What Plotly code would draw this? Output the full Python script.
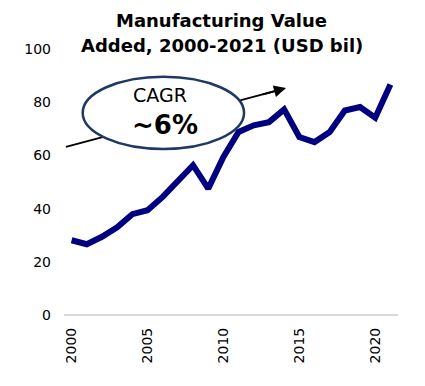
import plotly.graph_objects as go

years = list(range(2000, 2022))
values = [28.1, 26.6, 29.4, 33.0, 37.9, 39.4, 44.4, 50.0, 56.3, 47.5, 59.4,
          68.8, 71.3, 72.5, 77.3, 66.9, 65.0, 68.8, 76.9, 78.2, 74.2, 86.7]
x_ticks = [2000, 2005, 2010, 2015, 2020]
y_ticks = [0, 20, 40, 60, 80, 100]
title_lines = ["Manufacturing Value", "Added, 2000-2021 (USD bil)"]

fig = go.Figure()
fig.add_trace(go.Scatter(x=years, y=values, mode="lines",
                         line=dict(color="#000080", width=6), showlegend=False))

fig.update_layout(
    width=417, height=378,
    margin=dict(l=56, r=27, t=41, b=71),
    paper_bgcolor="white", plot_bgcolor="white",
    font=dict(family="DejaVu Sans", color="black", size=14),
    xaxis=dict(range=[1999.5, 2021.5], tickvals=x_ticks, tickangle=-90,
               showgrid=False, showline=False, zeroline=False, ticks="",
               ticklabelstandoff=9, tickfont=dict(size=14), automargin=False),
    yaxis=dict(range=[0, 100], tickvals=y_ticks, showgrid=False,
               zeroline=True, zerolinecolor="#d9d9d9", zerolinewidth=1.5,
               showline=False, ticks="", ticklabelstandoff=12,
               tickfont=dict(size=14), automargin=False),
)

# title (two lines)
fig.add_annotation(x=0.473, y=1, xref="paper", yref="paper", yanchor="middle",
                   yshift=29, text="<b>" + title_lines[0] + "</b>", showarrow=False,
                   font=dict(size=18, color="black"))
fig.add_annotation(x=0.473, y=1, xref="paper", yref="paper", yanchor="middle",
                   yshift=4, text="<b>" + title_lines[1] + "</b>", showarrow=False,
                   font=dict(size=18, color="black"))

# trend arrow line (passes behind the ellipse)
fig.add_shape(type="line", xref="x", yref="y", x0=1999.63, y0=63.2,
              x1=2014.0, y1=85.1, line=dict(color="black", width=2), layer="above")
fig.add_shape(type="circle", xref="x", yref="y", x0=2000.73, x1=2011.36,
              y0=62.4, y1=89.6, line=dict(color="#1F3864", width=2.5),
              fillcolor="white", layer="above")
fig.add_annotation(x=2014.12, y=85.3, ax=2012.5, ay=82.8, xref="x", yref="y",
                   axref="x", ayref="y", showarrow=True, arrowhead=2,
                   arrowsize=1.2, arrowwidth=2, arrowcolor="black", text="")
fig.add_annotation(x=2005.82, y=82.7, xref="x", yref="y", text="CAGR",
                   showarrow=False, font=dict(size=19, color="black"))
fig.add_annotation(x=2006.15, y=71.4, xref="x", yref="y", text="<b>~6%</b>",
                   showarrow=False, font=dict(size=26, color="black"))

fig.write_html("out.html")
